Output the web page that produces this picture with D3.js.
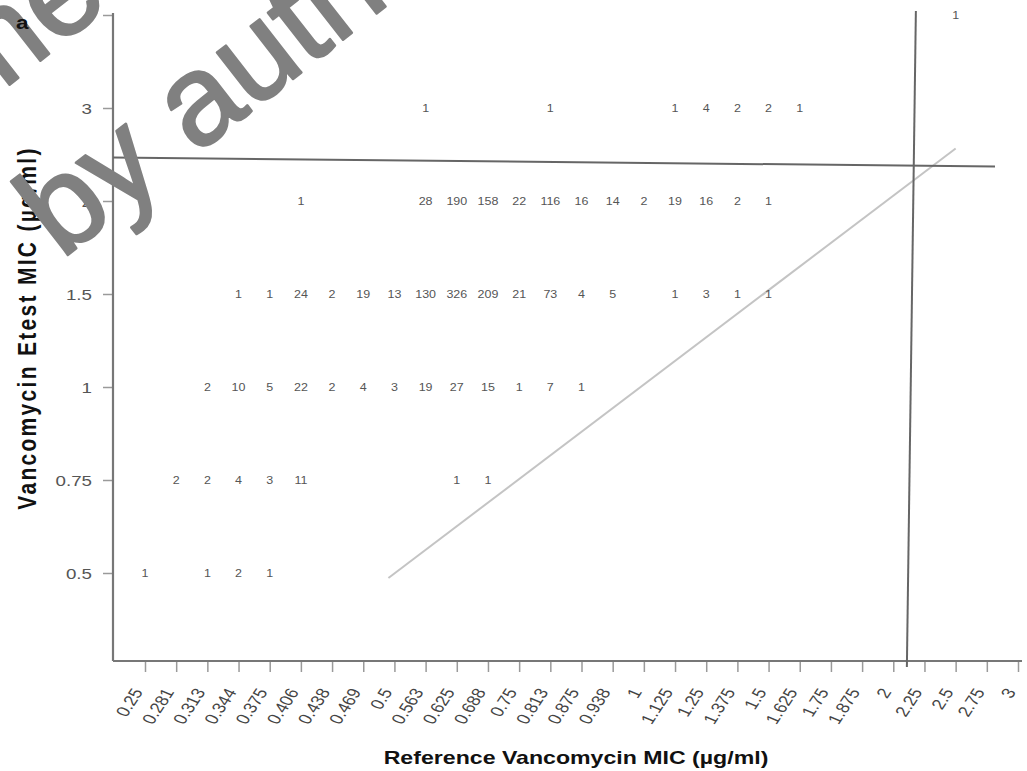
<!DOCTYPE html>
<html>
<head>
<meta charset="utf-8">
<script src="https://cdn.jsdelivr.net/npm/d3@7"></script>
<style>
body { margin: 0; background: #fff; }
text { font-family: "Liberation Sans", Arial, sans-serif; }
</style>
</head>
<body>
<div id="chart"></div>
<script>
// reference MIC categories (x) and Etest MIC categories (y)
var refMIC = ["0.25", "0.281", "0.313", "0.344", "0.375", "0.406", "0.438", "0.469", "0.5",
    "0.563", "0.625", "0.688", "0.75", "0.813", "0.875", "0.938", "1", "1.125", "1.25",
    "1.375", "1.5", "1.625", "1.75", "1.875", "2", "2.25", "2.5", "2.75", "3"];
var etestMIC = ["0.5", "0.75", "1", "1.5", "2", "3", "4"];

// counts per Etest row : [reference MIC, n]
var etest4 = [["2.5", 1]];
var etest3 = [["0.563", 1], ["0.813", 1], ["1.125", 1], ["1.25", 4], ["1.375", 2], ["1.5", 2], ["1.625", 1]];
var etest2 = [["0.406", 1], ["0.563", 28], ["0.625", 190], ["0.688", 158], ["0.75", 22], ["0.813", 116],
    ["0.875", 16], ["0.938", 14], ["1", 2], ["1.125", 19], ["1.25", 16], ["1.375", 2], ["1.5", 1]];
var etest15 = [["0.344", 1], ["0.375", 1], ["0.406", 24], ["0.438", 2], ["0.469", 19], ["0.5", 13],
    ["0.563", 130], ["0.625", 326], ["0.688", 209], ["0.75", 21], ["0.813", 73], ["0.875", 4],
    ["0.938", 5], ["1.125", 1], ["1.25", 3], ["1.375", 1], ["1.5", 1]];
var etest1 = [["0.313", 2], ["0.344", 10], ["0.375", 5], ["0.406", 22], ["0.438", 2], ["0.469", 4],
    ["0.5", 3], ["0.563", 19], ["0.625", 27], ["0.688", 15], ["0.75", 1], ["0.813", 7], ["0.875", 1]];
var etest075 = [["0.281", 2], ["0.313", 2], ["0.344", 4], ["0.375", 3], ["0.406", 11], ["0.625", 1], ["0.688", 1]];
var etest05 = [["0.25", 1], ["0.313", 1], ["0.344", 2], ["0.375", 1]];

// breakpoint lines and line of identity (in MIC units)
var refCutoff = 2.125;
var etestCutoff = 2.5;
var identity = [0.5, 2.5];

var rows = [["4", etest4], ["3", etest3], ["2", etest2], ["1.5", etest15],
    ["1", etest1], ["0.75", etest075], ["0.5", etest05]];
var cells = [];
rows.forEach(function(r) {
    r[1].forEach(function(c) { cells.push({ref: c[0], etest: r[0], n: c[1]}); });
});

var W = 1027, H = 771, SX = 1.25;
var svg = d3.select('#chart').append('svg')
        .attr('width', W)
        .attr('height', H);

var x = d3.scalePoint().domain(refMIC).range([145, 1018]);
var y = d3.scalePoint().domain(etestMIC).range([573, 15]);

// position of a numeric MIC between two categories
function catPos(scale, dom, v) {
    var nums = dom.map(Number);
    var i = d3.bisectLeft(nums, v);
    if (nums[i] === v) return scale(dom[i]);
    var a = nums[i - 1], b = nums[i];
    return scale(dom[i - 1]) + (v - a) / (b - a) * (scale(dom[i]) - scale(dom[i - 1]));
}

var axisY0 = 661, axisX0 = 113;

// x axis
var gx = svg.append('g')
        .attr('transform', 'translate(0,' + axisY0 + ')')
        .call(d3.axisBottom(x).tickSize(11).tickSizeOuter(0));
gx.select('.domain').remove();
gx.selectAll('line').attr('stroke', '#9a9a9a').attr('stroke-width', 1.5);
gx.selectAll('text')
        .attr('x', null).attr('y', null).attr('dy', null)
        .attr('text-anchor', 'end')
        .attr('fill', '#444')
        .style('font-size', '15px')
        .attr('transform', 'translate(-2,31) scale(' + SX + ',1) rotate(-62)');

// y axis
var gy = svg.append('g')
        .attr('transform', 'translate(' + axisX0 + ',0)')
        .call(d3.axisLeft(y).tickSize(10).tickSizeOuter(0));
gy.select('.domain').remove();
gy.selectAll('line').attr('stroke', '#9a9a9a').attr('stroke-width', 1.5);
gy.selectAll('text')
        .attr('x', null).attr('dy', '0.36em')
        .attr('text-anchor', 'end')
        .attr('fill', '#555')
        .style('font-size', '15px')
        .attr('transform', 'translate(-21,0) scale(' + SX + ',1)');

svg.append('line')
        .attr('x1', axisX0).attr('x2', axisX0)
        .attr('y1', 13).attr('y2', axisY0)
        .attr('stroke', '#777').attr('stroke-width', 2.2);
svg.append('line')
        .attr('x1', axisX0).attr('x2', 1022)
        .attr('y1', axisY0).attr('y2', axisY0)
        .attr('stroke', '#777').attr('stroke-width', 2.2);

// line of identity
svg.append('line')
        .attr('x1', catPos(x, refMIC, identity[0]) - 6)
        .attr('y1', catPos(y, etestMIC, identity[0]) + 5)
        .attr('x2', catPos(x, refMIC, identity[1]))
        .attr('y2', catPos(y, etestMIC, identity[1]) - 6)
        .attr('stroke', '#c4c4c4').attr('stroke-width', 2);

// breakpoints
var hy = catPos(y, etestMIC, etestCutoff);
svg.append('line')
        .attr('x1', axisX0).attr('x2', 995)
        .attr('y1', hy + 3).attr('y2', hy + 12)
        .attr('stroke', '#666').attr('stroke-width', 2);
var vx = catPos(x, refMIC, refCutoff);
svg.append('line')
        .attr('x1', vx + 7).attr('x2', vx - 2)
        .attr('y1', 11).attr('y2', axisY0 + 6)
        .attr('stroke', '#666').attr('stroke-width', 2);

// counts
svg.append('g').selectAll('text')
        .data(cells)
        .enter()
        .append('text')
        .attr('text-anchor', 'middle')
        .attr('fill', '#555')
        .style('font-size', '10px')
        .attr('transform', (d) =>
            'translate(' + x(d.ref) + ',' + (y(d.etest) + 3.5) + ') scale(' + SX + ',1)'
        ).text((d) => d.n);

// titles
svg.append('text')
        .attr('text-anchor', 'middle')
        .style('font-size', '18.5px').style('font-weight', 'bold')
        .attr('fill', '#111')
        .attr('transform', 'translate(576,764) scale(' + SX + ',1)')
        .text('Reference Vancomycin MIC (\u00b5g/ml)');
svg.append('text')
        .attr('text-anchor', 'middle')
        .style('font-size', '21px').style('font-weight', 'bold')
        .style('letter-spacing', '2.3px')
        .attr('fill', '#111')
        .attr('transform', 'translate(36,328) scale(' + SX + ',1) rotate(-90)')
        .text('Vancomycin Etest MIC (\u00b5g/ml)');

// watermark over the figure
var wm = svg.append('g')
        .attr('transform', 'translate(92,236) rotate(-38)')
        .attr('fill', '#808080')
        .attr('stroke', '#808080')
        .attr('stroke-width', 2.5)
        .attr('stroke-linejoin', 'round')
        .style('font-size', '128px');
wm.append('text').attr('x', -39).attr('y', 0).text('by author');
wm.append('text').attr('x', 158).attr('y', -170).attr('text-anchor', 'end').text('me');

// panel letter sits on top
svg.append('text')
        .style('font-size', '18px').style('font-weight', 'bold')
        .attr('fill', '#111')
        .attr('transform', 'translate(16,29) scale(' + SX + ',1)')
        .text('a');
</script>
</body>
</html>
